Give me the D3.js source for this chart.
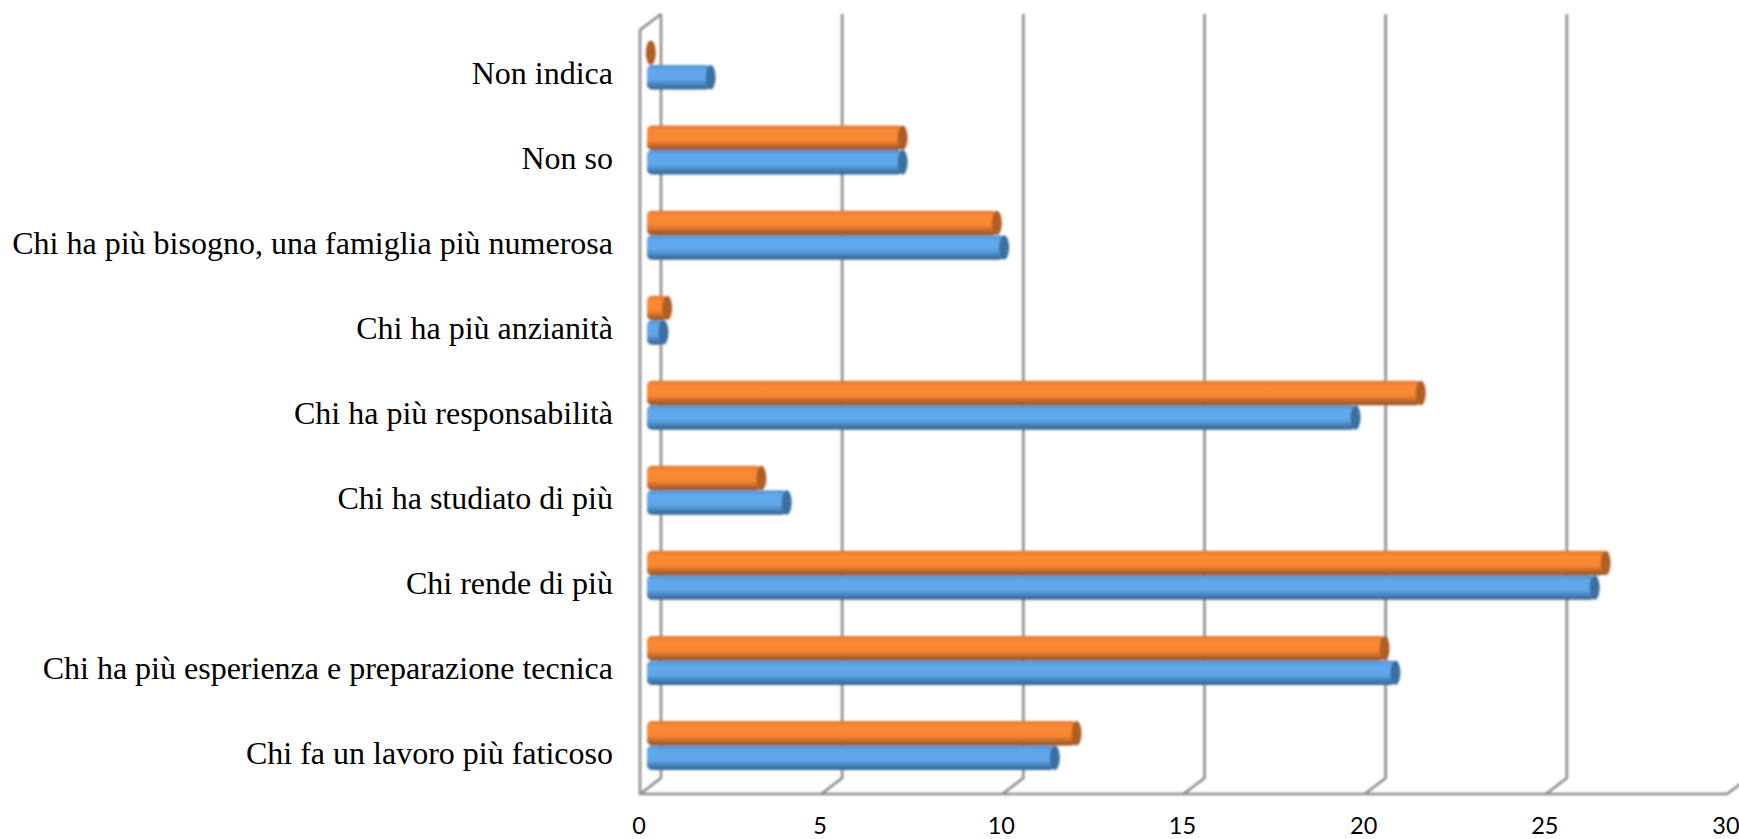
<!DOCTYPE html>
<html>
<head>
<meta charset="utf-8">
<script src="https://cdnjs.cloudflare.com/ajax/libs/d3/7.8.5/d3.min.js"></script>
<style>
  html, body { margin: 0; padding: 0; background: #fff; overflow: hidden; }
  .cat { font-family: "Liberation Serif", serif; font-size: 32px; fill: #000; text-anchor: end; }
  .tick-label { font-family: Lato, sans-serif; font-size: 23.5px; fill: #000; text-anchor: middle; }
</style>
</head>
<body>
<svg id="chart" width="1739" height="839"></svg>
<script>
// bottom to top, as on the chart
var categories = [
  "Chi fa un lavoro più faticoso",
  "Chi ha più esperienza e preparazione tecnica",
  "Chi rende di più",
  "Chi ha studiato di più",
  "Chi ha più responsabilità",
  "Chi ha più anzianità",
  "Chi ha più bisogno, una famiglia più numerosa",
  "Non so",
  "Non indica"
];
var blueValues = [11.2, 20.6, 26.1, 3.8, 19.5, 0.4, 9.8, 7.0, 1.7];
var orangeValues = [11.8, 20.3, 26.4, 3.1, 21.3, 0.5, 9.6, 7.0, 0.05];
var tickValues = [0, 5, 10, 15, 20, 25, 30];

var svg = d3.select("#chart");

// front plane of the floor, the back wall sits 21px right and 16px up
var x = d3.scaleLinear().domain([0, 30]).range([640, 1727]);
var depthX = 21, depthY = 16;
var floorY = 794, topY = 30;

var y = d3.scaleBand()
  .domain(categories)
  .range([788, 22.5])
  .paddingInner(0)
  .paddingOuter(0);

var barH = 24.5;
var barStart = 647;
var zeroX = 649;
var capRx = 5;
function barEnd(v) { return zeroX + (x(v) - x(0)); }

var defs = svg.append("defs");
function cylinderGradient(id, stops) {
  var g = defs.append("linearGradient").attr("id", id)
    .attr("x1", 0).attr("y1", 0).attr("x2", 0).attr("y2", 1);
  stops.forEach(function(s) {
    g.append("stop").attr("offset", s[0]).attr("stop-color", s[1]);
  });
}
cylinderGradient("blueBody", [[0, "#5593cc"], [0.22, "#61a9ec"], [0.6, "#5fa6e8"], [0.82, "#4580b8"], [1, "#33618c"]]);
cylinderGradient("orangeBody", [[0, "#e07a30"], [0.22, "#fb8a35"], [0.6, "#f88732"], [0.82, "#bf6a2b"], [1, "#8f5024"]]);

var soft = defs.append("filter").attr("id", "soft");
soft.append("feGaussianBlur").attr("stdDeviation", 0.9);

var grid = svg.append("g").attr("filter", "url(#soft)")
  .attr("fill", "none").attr("stroke", "#8c8c8c").attr("stroke-width", 2.6);

// gridlines: front tick on the floor, slanted to the wall, then up
grid.selectAll("path.gridline")
  .data(tickValues)
  .enter()
  .append("path")
  .attr("class", "gridline")
  .attr("d", function(d) {
    var x0 = x(d);
    return "M" + x0 + "," + floorY +
      "L" + (x0 + depthX) + "," + (floorY - depthY) +
      "L" + (x0 + depthX) + "," + (topY - depthY);
  });

// front of the side wall and floor edge
grid.append("path")
  .attr("d", "M" + (x(0) + depthX) + "," + (topY - depthY) +
    "L" + x(0) + "," + topY +
    "L" + x(0) + "," + floorY +
    "L" + x(30) + "," + floorY);

var bars = svg.append("g").attr("filter", "url(#soft)");

function drawSeries(values, bodyId, capColor, offset) {
  var g = bars.append("g");
  g.selectAll("rect")
    .data(values)
    .enter()
    .append("rect")
    .attr("x", barStart)
    .attr("y", function(d, i) { return y(categories[i]) + y.bandwidth() / 2 + offset; })
    // a value near zero shows only its end cap
    .attr("width", function(d) {
      var w = barEnd(d) - barStart;
      return w < capRx ? 0 : w;
    })
    .attr("height", barH)
    .attr("rx", capRx)
    .attr("fill", "url(#" + bodyId + ")");
  g.selectAll("ellipse")
    .data(values)
    .enter()
    .append("ellipse")
    .attr("cx", function(d) { return barEnd(d); })
    .attr("cy", function(d, i) { return y(categories[i]) + y.bandwidth() / 2 + offset + barH / 2; })
    .attr("rx", capRx)
    .attr("ry", barH / 2)
    .attr("fill", capColor);
}

drawSeries(blueValues, "blueBody", "#3a6f9f", 0);
drawSeries(orangeValues, "orangeBody", "#ad5f26", -barH);

svg.append("g").selectAll("text")
  .data(categories)
  .enter()
  .append("text")
  .attr("class", "cat")
  .attr("x", 613)
  .attr("y", function(d) { return y(d) + y.bandwidth() / 2 + 18.5; })
  .text(function(d) { return d; });

svg.append("g").selectAll("text")
  .data(tickValues)
  .enter()
  .append("text")
  .attr("class", "tick-label")
  .attr("x", function(d) { return x(d) - 1; })
  .attr("y", 834)
  .text(function(d) { return d; });
</script>
</body>
</html>
